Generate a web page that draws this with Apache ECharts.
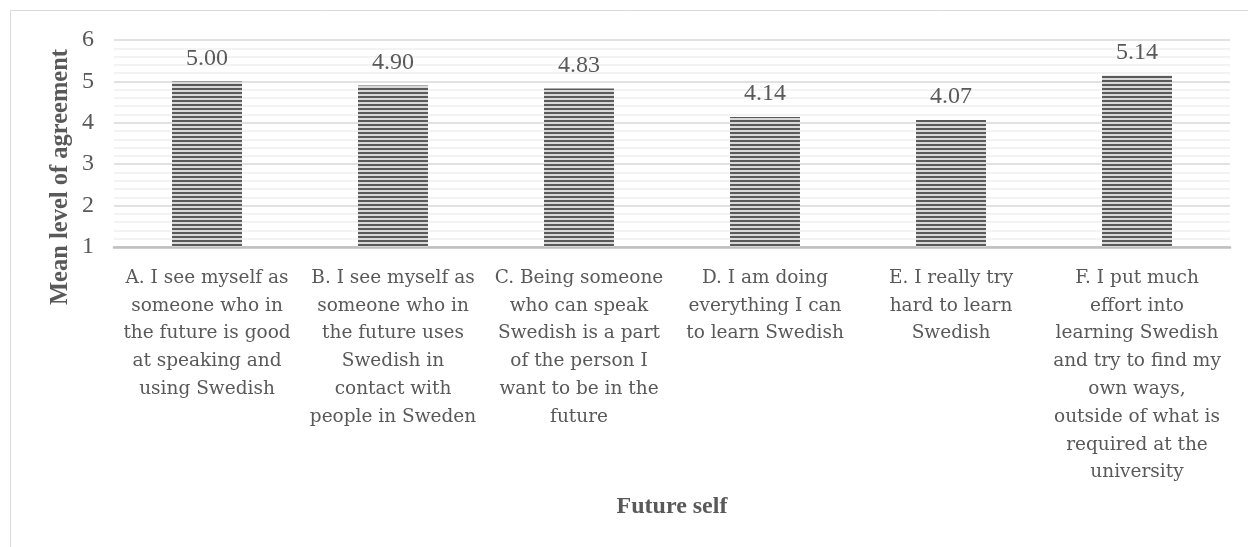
<!DOCTYPE html>
<html><head><meta charset="utf-8">
<script src="https://cdn.jsdelivr.net/npm/echarts@6/dist/echarts.min.js"></script>
<style>html,body{margin:0;padding:0;background:#fff}#c{width:1248px;height:547px}</style>
</head><body><div id="c"></div>
<script>
const categories = [
  "A. I see myself as\nsomeone who in\nthe future is good\nat speaking and\nusing Swedish",
  "B. I see myself as\nsomeone who in\nthe future uses\nSwedish in\ncontact with\npeople in Sweden",
  "C. Being someone\nwho can speak\nSwedish is a part\nof the person I\nwant to be in the\nfuture",
  "D. I am doing\neverything I can\nto learn Swedish",
  "E. I really try\nhard to learn\nSwedish",
  "F. I put much\neffort into\nlearning Swedish\nand try to find my\nown ways,\noutside of what is\nrequired at the\nuniversity"
];
const meanValues = [5.00, 4.90, 4.83, 4.14, 4.07, 5.14];
const yTicks = [1, 2, 3, 4, 5, 6];
const xTitle = 'Future self';
const yTitle = 'Mean level of agreement';

const SERIF = '"Liberation Serif", "Times New Roman", serif';
const WIDE = '"DejaVu Serif", serif';
const TXT = '#595959';

const pc = document.createElement('canvas');
pc.width = 4; pc.height = 4;
const g = pc.getContext('2d');
g.fillStyle = '#d9d9d9'; g.fillRect(0,0,4,4);
g.fillStyle = '#5a5a5a'; g.fillRect(0,0,4,2);

const chart = echarts.init(document.getElementById('c'), null, {renderer:'canvas'});
chart.setOption({
  animation: false,
  backgroundColor: '#fff',
  graphic: [
    {type:'rect', shape:{x:10.5,y:10.5,width:1250,height:560}, style:{fill:'none', stroke:'#d9d9d9', lineWidth:1}, z:-1},
    {type:'text', x:61, y:177, rotation:Math.PI/2,
     style:{text:yTitle, font:'bold 24.5px ' + SERIF, fill:TXT, align:'center', verticalAlign:'middle'}}
  ],
  grid: {left:114, right:18, top:40, bottom:300, containLabel:false},
  xAxis: {
    type:'category', data: categories,
    name:xTitle, nameLocation:'middle', nameGap:248,
    nameTextStyle:{fontFamily:SERIF, fontSize:24, fontWeight:'bold', color:TXT},
    axisLine:{lineStyle:{color:'#bfbfbf', width:2.5}},
    axisTick:{show:false},
    axisLabel:{interval:0, fontFamily:WIDE, fontSize:18.5, color:TXT, lineHeight:27.8, margin:17}
  },
  yAxis: {
    type:'value', min:yTicks[0], max:yTicks[yTicks.length-1], interval:1,
    axisLine:{show:false}, axisTick:{show:false},
    axisLabel:{fontFamily:SERIF, fontSize:24, color:TXT, margin:20},
    splitLine:{lineStyle:{color:'#d9d9d9', width:1.5}},
    minorTick:{show:false, splitNumber:5},
    minorSplitLine:{show:true, lineStyle:{color:'#f0f0f0', width:1.5}}
  },
  series: [{
    type:'bar', data: meanValues, barWidth:'37.6%',
    itemStyle:{color:{image:pc, repeat:'repeat'}},
    label:{show:true, position:'top', distance:11, formatter:p=>p.value.toFixed(2), fontFamily:SERIF, fontSize:24, color:TXT}
  }]
});
</script></body></html>
